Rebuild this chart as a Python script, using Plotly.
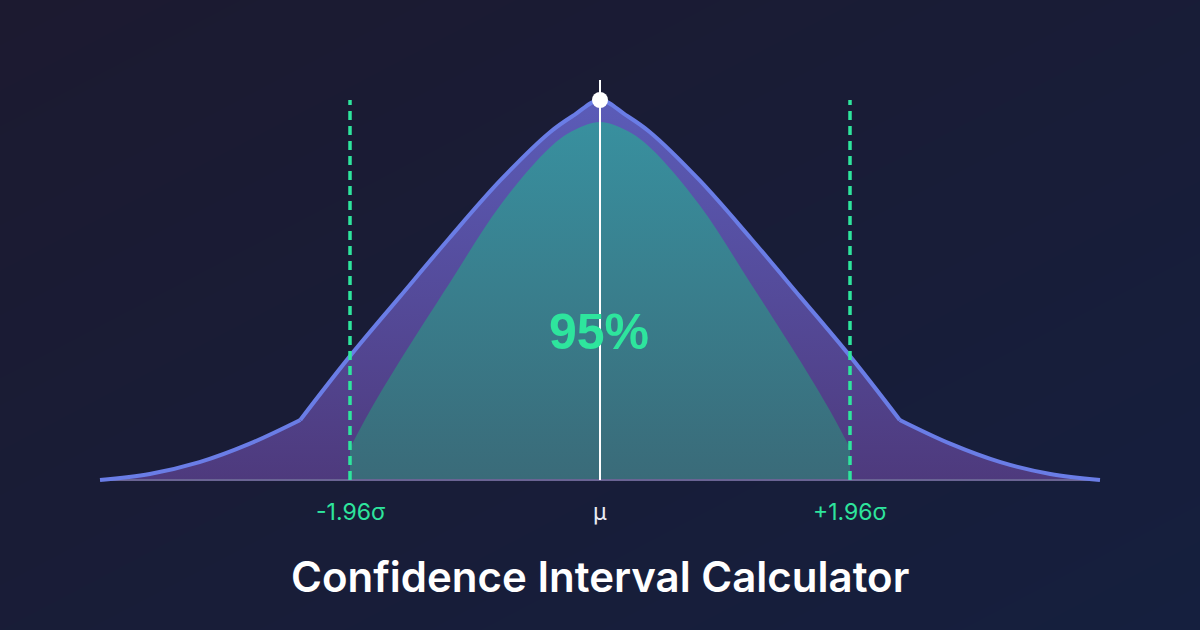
import plotly.graph_objects as go

# ---- data (x in standard deviations from the mean, y = height relative to peak) ----
# outer curve, split into left tail / centre / right tail (corners between them)
tailL_z = [-3.92, -3.53, -3.14, -2.75, -2.35]
tailL_h = [0.0, 0.016, 0.047, 0.095, 0.158]
centre_z = [-2.35, -1.96, -1.57, -1.18, -0.78, -0.39, -0.20, 0.0,
            0.20, 0.39, 0.78, 1.18, 1.57, 1.96, 2.35]
centre_h = [0.158, 0.326, 0.482, 0.637, 0.789, 0.916, 0.961, 1.0,
            0.961, 0.916, 0.789, 0.637, 0.482, 0.326, 0.158]
tailR_z = [2.35, 2.75, 3.14, 3.53, 3.92]
tailR_h = [0.158, 0.095, 0.047, 0.016, 0.0]

inner_z = [-1.96, -1.80, -1.57, -1.18, -0.78, -0.39, -0.20, 0.0,
           0.20, 0.39, 0.78, 1.18, 1.57, 1.80, 1.96]
inner_h = [0.084, 0.184, 0.313, 0.518, 0.724, 0.876, 0.921, 0.942,
           0.921, 0.876, 0.724, 0.518, 0.313, 0.184, 0.084]

critical_z = [-1.96, 1.96]
mean_z = 0.0
peak_h = 1.0
mean_line_top = 1.053
tick_labels = ["-1.96σ", "μ", "+1.96σ"]
tick_pos = [-1.96, 0.0, 1.96]
confidence_label = "95%"
title_text = "Confidence Interval Calculator"

# axis ranges chosen so the figure fills the 1200x630 canvas
XR = [-4.704, 4.704]
YR = [-0.3947, 1.2632]

GREEN = "#2ee59d"
BG_TL = "#1c1a30"
BG_BR = "#151f3e"
PURPLE_SCALE = [[0, "#4e3a7d"], [1, "#5b5cb8"]]
TEAL_SCALE = [[0, "#3a6b79"], [1, "#3892a1"]]

fig = go.Figure()

# background gradient
fig.add_trace(go.Heatmap(
    x=[XR[0], 0, XR[1]], y=[YR[0], (YR[0] + YR[1]) / 2, YR[1]],
    z=[[0.5, 0.75, 1.0], [0.25, 0.5, 0.75], [0.0, 0.25, 0.5]],
    colorscale=[[0, BG_TL], [1, BG_BR]], zsmooth="best", showscale=False,
    hoverinfo="skip"))

segments = [(tailL_z, tailL_h), (centre_z, centre_h), (tailR_z, tailR_h)]
full_z = tailL_z + centre_z[1:] + tailR_z[1:]
full_h = tailL_h + centre_h[1:] + tailR_h[1:]

# outer (purple) area: a full underlay (hides seams) + smoothed segments
fig.add_trace(go.Scatter(
    x=full_z, y=full_h, mode="lines", fill="tozeroy",
    line=dict(width=0),
    fillgradient=dict(type="vertical", start=0, stop=1, colorscale=PURPLE_SCALE),
    hoverinfo="skip", showlegend=False))
for sz, sh in segments:
    fig.add_trace(go.Scatter(
        x=sz, y=sh, mode="lines", fill="tozeroy",
        line=dict(width=0, shape="spline", smoothing=1.0),
        fillgradient=dict(type="vertical", start=0, stop=1, colorscale=PURPLE_SCALE),
        hoverinfo="skip", showlegend=False))

# inner (teal) confidence area
fig.add_trace(go.Scatter(
    x=inner_z, y=inner_h, mode="lines", fill="tozeroy",
    line=dict(width=0, shape="spline", smoothing=1.0),
    fillgradient=dict(type="vertical", start=0, stop=1, colorscale=TEAL_SCALE),
    hoverinfo="skip", showlegend=False))

# baseline
fig.add_trace(go.Scatter(
    x=[tailL_z[0], tailR_z[-1]], y=[0, 0], mode="lines",
    line=dict(color="#6a6494", width=2), hoverinfo="skip", showlegend=False))

# outer curve line
for sz, sh in segments:
    fig.add_trace(go.Scatter(
        x=sz, y=sh, mode="lines",
        line=dict(color="#6a7de6", width=4, shape="spline", smoothing=1.0),
        hoverinfo="skip", showlegend=False))

# critical value dashed lines
for cz in critical_z:
    fig.add_trace(go.Scatter(
        x=[cz, cz], y=[0, peak_h], mode="lines",
        line=dict(color=GREEN, width=3.5, dash="9px,6px"),
        hoverinfo="skip", showlegend=False))

# mean line and marker
fig.add_trace(go.Scatter(
    x=[mean_z, mean_z], y=[0, mean_line_top], mode="lines",
    line=dict(color="#ffffff", width=2), hoverinfo="skip", showlegend=False))
fig.add_trace(go.Scatter(
    x=[mean_z], y=[peak_h], mode="markers",
    marker=dict(color="#ffffff", size=16), hoverinfo="skip", showlegend=False))

# texts
fig.add_annotation(x=mean_z - 0.01, y=0.39, text=f"<b>{confidence_label}</b>", showarrow=False,
                   font=dict(family="Liberation Sans, Arial, sans-serif", size=50, color=GREEN),
                   xanchor="center", yanchor="middle")
label_colors = [GREEN, "#e8eaf2", GREEN]
for pos, lab, col in zip(tick_pos, tick_labels, label_colors):
    fig.add_annotation(x=pos, y=-0.085, text=lab, showarrow=False,
                       font=dict(family="Inter, sans-serif", size=23, color=col),
                       xanchor="center", yanchor="middle")
fig.add_annotation(x=0, y=-0.255, text=title_text, showarrow=False,
                   font=dict(family="Inter, sans-serif", size=42, color="#ffffff", weight=600),
                   xanchor="center", yanchor="middle")

fig.update_layout(
    width=1200, height=630, autosize=False,
    margin=dict(l=0, r=0, t=0, b=0),
    paper_bgcolor="#1a1d36", plot_bgcolor="#1a1d36",
    xaxis=dict(range=XR, visible=False, fixedrange=True),
    yaxis=dict(range=YR, visible=False, fixedrange=True),
    showlegend=False,
)

fig.write_html(
    "out.html",
    config={"displayModeBar": False, "staticPlot": True},
    post_script="document.body.style.margin='0';document.body.style.padding='0';"
                "document.body.style.overflow='hidden';"
                "document.body.style.background='#1a1d36';",
)
